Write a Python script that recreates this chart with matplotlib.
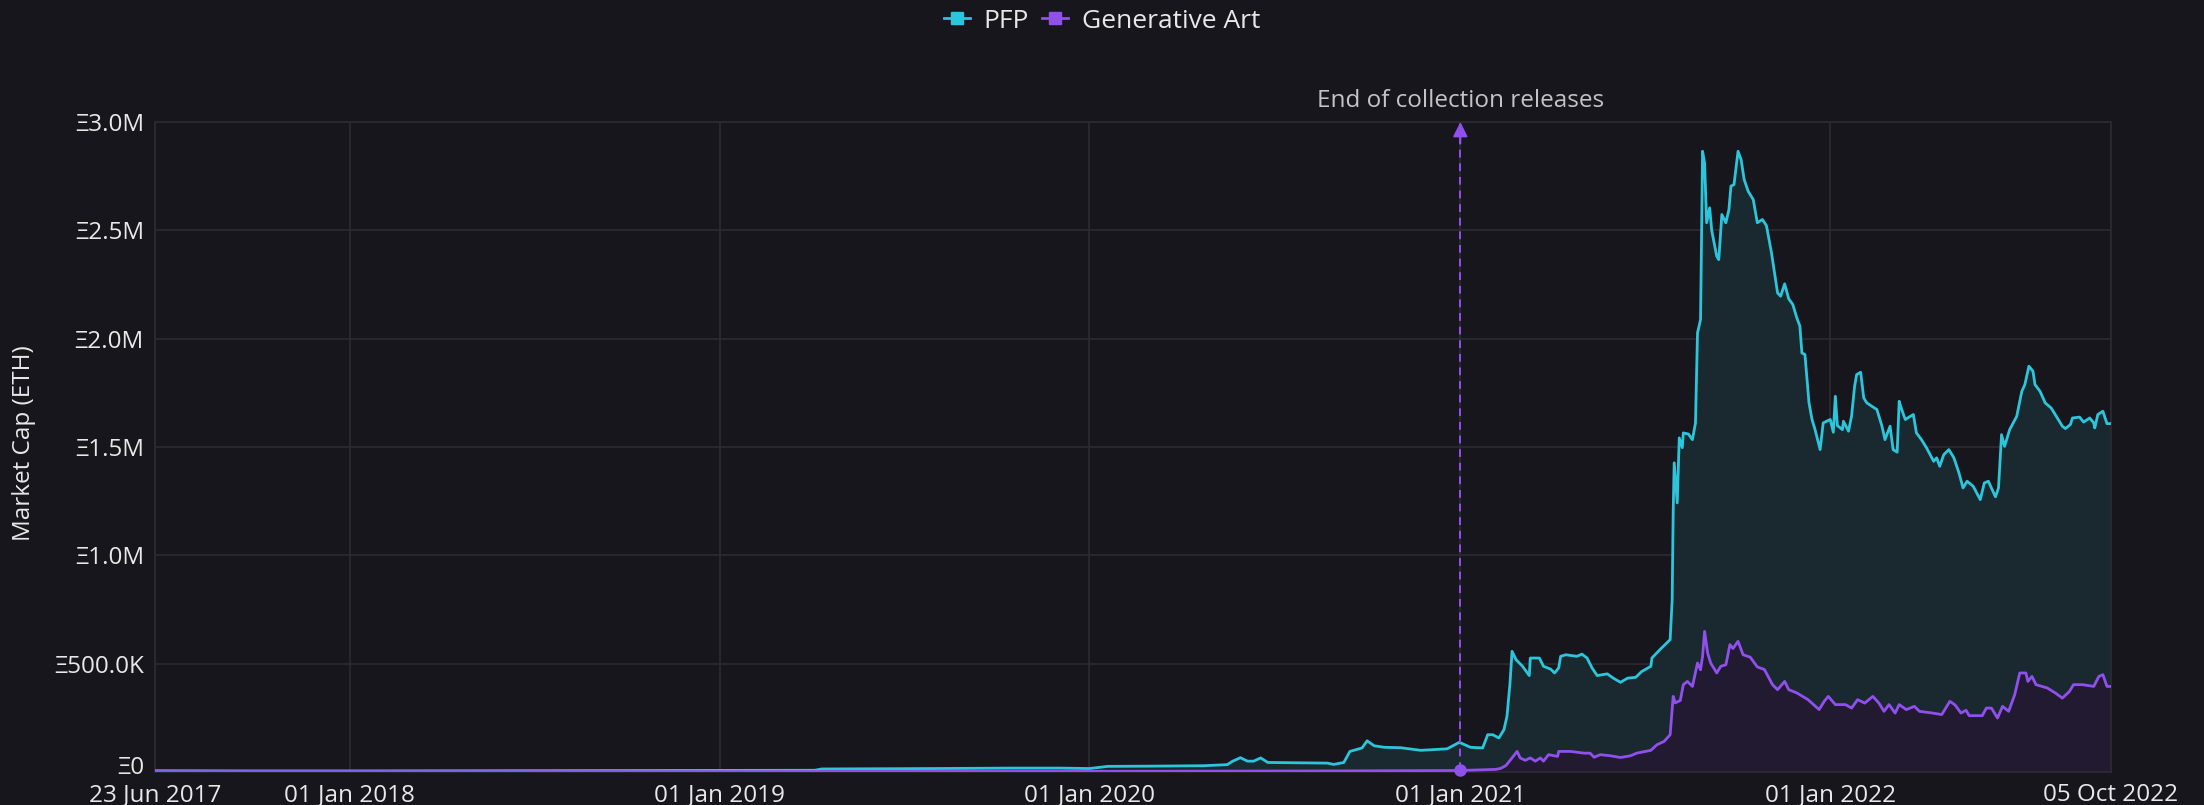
import matplotlib
matplotlib.use("Agg")
import matplotlib.pyplot as plt
import matplotlib.dates as mdates
import matplotlib.transforms as mtrans
from matplotlib.lines import Line2D
from matplotlib.ticker import FixedLocator
import pandas as pd

# ---------------- data (market cap in millions of ETH) ----------------
pfp_dates = [
    "2017-06-23", "2017-10-01", "2018-01-01", "2018-06-01", "2018-11-20", "2019-01-01",
    "2019-04-05", "2019-04-12", "2019-08-01", "2019-10-15", "2019-12-03", "2020-01-01",
    "2020-01-19", "2020-03-01", "2020-04-23", "2020-05-16", "2020-05-21", "2020-05-29",
    "2020-06-05", "2020-06-11", "2020-06-18", "2020-06-25", "2020-08-23", "2020-08-29",
    "2020-09-08", "2020-09-14", "2020-09-26", "2020-10-01", "2020-10-08", "2020-10-18",
    "2020-11-03", "2020-11-23", "2020-12-19", "2020-12-31", "2021-01-11", "2021-01-23",
    "2021-01-28", "2021-02-02", "2021-02-08", "2021-02-13", "2021-02-16", "2021-02-19",
    "2021-02-21", "2021-02-25", "2021-03-03", "2021-03-10", "2021-03-11", "2021-03-20",
    "2021-03-24", "2021-03-31", "2021-04-04", "2021-04-08", "2021-04-10", "2021-04-15",
    "2021-04-26", "2021-05-01", "2021-05-06", "2021-05-11", "2021-05-16", "2021-05-26",
    "2021-06-01", "2021-06-08", "2021-06-15", "2021-06-23", "2021-06-29", "2021-07-08",
    "2021-07-09", "2021-07-17", "2021-07-27", "2021-07-29", "2021-07-30", "2021-07-31",
    "2021-08-03", "2021-08-05", "2021-08-08", "2021-08-09", "2021-08-14", "2021-08-18",
    "2021-08-21", "2021-08-23", "2021-08-26", "2021-08-28", "2021-08-30", "2021-09-01",
    "2021-09-04", "2021-09-06", "2021-09-11", "2021-09-13", "2021-09-16", "2021-09-20",
    "2021-09-23", "2021-09-25", "2021-09-28", "2021-10-02", "2021-10-05", "2021-10-08",
    "2021-10-12", "2021-10-17", "2021-10-21", "2021-10-26", "2021-10-30", "2021-11-04",
    "2021-11-10", "2021-11-13", "2021-11-17", "2021-11-21", "2021-11-25", "2021-11-29",
    "2021-12-02", "2021-12-04", "2021-12-07", "2021-12-11", "2021-12-14", "2021-12-17",
    "2021-12-22", "2021-12-25", "2022-01-01", "2022-01-04", "2022-01-06", "2022-01-08",
    "2022-01-13", "2022-01-14", "2022-01-19", "2022-01-22", "2022-01-25", "2022-01-27",
    "2022-01-31", "2022-02-03", "2022-02-06", "2022-02-11", "2022-02-16", "2022-02-21",
    "2022-02-24", "2022-03-01", "2022-03-04", "2022-03-08", "2022-03-10", "2022-03-12",
    "2022-03-16", "2022-03-24", "2022-03-27", "2022-04-01", "2022-04-06", "2022-04-13",
    "2022-04-16", "2022-04-19", "2022-04-23", "2022-04-28", "2022-05-03", "2022-05-08",
    "2022-05-12", "2022-05-16", "2022-05-22", "2022-05-29", "2022-06-02", "2022-06-06",
    "2022-06-09", "2022-06-13", "2022-06-16", "2022-06-19", "2022-06-22", "2022-06-27",
    "2022-07-04", "2022-07-09", "2022-07-12", "2022-07-16", "2022-07-20", "2022-07-22",
    "2022-07-27", "2022-08-01", "2022-08-07", "2022-08-13", "2022-08-18", "2022-08-21",
    "2022-08-26", "2022-08-28", "2022-09-04", "2022-09-08", "2022-09-14", "2022-09-18",
    "2022-09-19", "2022-09-22", "2022-09-27", "2022-10-01", "2022-10-05",
]
pfp_values = [
    0.006, 0.005, 0.005, 0.006, 0.007, 0.007,
    0.008, 0.014, 0.016, 0.018, 0.018, 0.016,
    0.026, 0.027, 0.029, 0.034, 0.049, 0.066,
    0.050, 0.050, 0.065, 0.044, 0.041, 0.035,
    0.044, 0.095, 0.111, 0.144, 0.121, 0.114,
    0.112, 0.100, 0.107, 0.137, 0.114, 0.111,
    0.172, 0.172, 0.157, 0.195, 0.257, 0.411,
    0.557, 0.518, 0.490, 0.445, 0.526, 0.526,
    0.488, 0.475, 0.457, 0.480, 0.534, 0.541,
    0.534, 0.544, 0.526, 0.480, 0.445, 0.453,
    0.433, 0.414, 0.433, 0.437, 0.464, 0.488,
    0.526, 0.565, 0.611, 0.795, 1.200, 1.427,
    1.242, 1.542, 1.497, 1.565, 1.560, 1.534,
    1.611, 2.027, 2.088, 2.865, 2.810, 2.535,
    2.604, 2.500, 2.380, 2.365, 2.573, 2.535,
    2.596, 2.704, 2.711, 2.865, 2.827, 2.735,
    2.680, 2.642, 2.535, 2.550, 2.522, 2.396,
    2.211, 2.196, 2.253, 2.184, 2.158, 2.096,
    2.058, 1.934, 1.927, 1.704, 1.627, 1.580,
    1.488, 1.611, 1.627, 1.568, 1.734, 1.599,
    1.580, 1.619, 1.573, 1.642, 1.780, 1.834,
    1.845, 1.727, 1.704, 1.688, 1.673, 1.596,
    1.534, 1.596, 1.488, 1.476, 1.711, 1.680,
    1.627, 1.650, 1.565, 1.534, 1.496, 1.434,
    1.450, 1.411, 1.465, 1.488, 1.450, 1.380,
    1.311, 1.342, 1.319, 1.257, 1.334, 1.342,
    1.311, 1.270, 1.311, 1.557, 1.503, 1.580,
    1.642, 1.757, 1.788, 1.873, 1.850, 1.788,
    1.757, 1.704, 1.680, 1.634, 1.596, 1.585,
    1.604, 1.634, 1.638, 1.615, 1.634, 1.611,
    1.588, 1.650, 1.665, 1.608, 1.608,
]

gen_dates = [
    "2017-06-23", "2018-06-01", "2019-01-01", "2020-01-01", "2020-09-01", "2021-01-01",
    "2021-02-05", "2021-02-10", "2021-02-15", "2021-02-21", "2021-02-26", "2021-03-01",
    "2021-03-06", "2021-03-11", "2021-03-16", "2021-03-21", "2021-03-24", "2021-03-29",
    "2021-04-07", "2021-04-08", "2021-04-20", "2021-05-03", "2021-05-09", "2021-05-13",
    "2021-05-19", "2021-05-29", "2021-06-08", "2021-06-18", "2021-06-24", "2021-07-08",
    "2021-07-14", "2021-07-21", "2021-07-27", "2021-07-30", "2021-08-01", "2021-08-06",
    "2021-08-09", "2021-08-13", "2021-08-18", "2021-08-23", "2021-08-26", "2021-08-28",
    "2021-08-30", "2021-09-02", "2021-09-05", "2021-09-11", "2021-09-15", "2021-09-20",
    "2021-09-24", "2021-09-27", "2021-10-02", "2021-10-07", "2021-10-14", "2021-10-21",
    "2021-10-28", "2021-11-05", "2021-11-10", "2021-11-17", "2021-11-21", "2021-11-29",
    "2021-12-10", "2021-12-21", "2021-12-26", "2021-12-30", "2022-01-06", "2022-01-16",
    "2022-01-22", "2022-01-28", "2022-02-04", "2022-02-12", "2022-02-18", "2022-02-23",
    "2022-02-28", "2022-03-06", "2022-03-10", "2022-03-17", "2022-03-25", "2022-03-30",
    "2022-04-12", "2022-04-21", "2022-04-29", "2022-05-04", "2022-05-10", "2022-05-15",
    "2022-05-18", "2022-05-31", "2022-06-04", "2022-06-09", "2022-06-15", "2022-06-20",
    "2022-06-26", "2022-07-02", "2022-07-07", "2022-07-13", "2022-07-15", "2022-07-19",
    "2022-07-23", "2022-08-03", "2022-08-11", "2022-08-18", "2022-08-25", "2022-08-29",
    "2022-09-07", "2022-09-18", "2022-09-23", "2022-09-27", "2022-10-01", "2022-10-05",
]
gen_values = [
    0.002, 0.002, 0.002, 0.003, 0.005, 0.007,
    0.012, 0.017, 0.030, 0.065, 0.095, 0.065,
    0.054, 0.065, 0.050, 0.065, 0.050, 0.080,
    0.072, 0.095, 0.095, 0.087, 0.087, 0.068,
    0.080, 0.075, 0.067, 0.075, 0.087, 0.100,
    0.126, 0.141, 0.172, 0.349, 0.319, 0.330,
    0.403, 0.418, 0.395, 0.503, 0.472, 0.534,
    0.649, 0.549, 0.503, 0.457, 0.488, 0.495,
    0.588, 0.570, 0.603, 0.541, 0.530, 0.485,
    0.473, 0.403, 0.380, 0.418, 0.380, 0.365,
    0.334, 0.288, 0.326, 0.349, 0.311, 0.311,
    0.295, 0.334, 0.318, 0.349, 0.318, 0.280,
    0.311, 0.272, 0.311, 0.288, 0.303, 0.280,
    0.272, 0.265, 0.326, 0.310, 0.272, 0.285,
    0.260, 0.260, 0.295, 0.295, 0.249, 0.303,
    0.280, 0.357, 0.457, 0.457, 0.418, 0.441,
    0.403, 0.388, 0.365, 0.341, 0.372, 0.403,
    0.403, 0.395, 0.441, 0.449, 0.395, 0.395,
]

series_names = ["PFP", "Generative Art"]
x_tick_dates = ["2017-06-23", "2018-01-01", "2019-01-01", "2020-01-01",
                "2021-01-01", "2022-01-01", "2022-10-05"]
y_ticks = [0, 0.5, 1.0, 1.5, 2.0, 2.5, 3.0]
y_tick_labels = ["Ξ0", "Ξ500.0K", "Ξ1.0M", "Ξ1.5M", "Ξ2.0M", "Ξ2.5M", "Ξ3.0M"]
event_date = "2021-01-01"
event_value = 0.007
event_label = "End of collection releases"
y_label = "Market Cap (ETH)"

# ---------------- style ----------------
BG = "#17161c"
GRID = "#2c2b33"
PFP_C = "#2cc6dc"
GEN_C = "#9150ee"
PFP_FILL = "#1a2930"
GEN_FILL = "#221a30"
TXT = "#e8e8ea"

plt.rcParams["font.family"] = ["Open Sans", "DejaVu Sans"]

fig = plt.figure(figsize=(22.04, 8.05), dpi=100, facecolor=BG)
ax = fig.add_axes([155 / 2204, 1 - 772 / 805, (2111 - 155) / 2204, (772 - 122) / 805])
ax.set_facecolor(BG)

pd_pfp = pd.to_datetime(pfp_dates)
pd_gen = pd.to_datetime(gen_dates)

ax.fill_between(pd_pfp, 0, pfp_values, color=PFP_FILL, lw=0, zorder=1)
ax.fill_between(pd_gen, 0, gen_values, color=GEN_FILL, lw=0, zorder=2)
ax.plot(pd_pfp, pfp_values, color=PFP_C, lw=2.0, zorder=4, solid_joinstyle="round")
ax.plot(pd_gen, gen_values, color=GEN_C, lw=2.0, zorder=5, solid_joinstyle="round")

xt = pd.to_datetime(x_tick_dates)
ax.set_xlim(xt[0], xt[-1])
ax.set_ylim(0, 3.0)

ax.xaxis.set_major_locator(FixedLocator(mdates.date2num(xt)))
ax.set_xticklabels([d.strftime("%d %b %Y") for d in xt])
ax.set_yticks(y_ticks)
ax.set_yticklabels(y_tick_labels)
ax.tick_params(axis="both", length=0, colors=TXT, labelsize=17.5)
ax.tick_params(axis="x", pad=8)
ax.tick_params(axis="y", pad=8)

# lift the zero label a little so it clears the first date label
zero_lbl = ax.get_yticklabels()[0]
zero_lbl.set_transform(zero_lbl.get_transform() +
                       mtrans.ScaledTranslation(0, 5 / 72, fig.dpi_scale_trans))

ax.grid(True, color=GRID, lw=1.2, zorder=0)
ax.set_axisbelow(True)
for s in ax.spines.values():
    s.set_color(GRID)
    s.set_linewidth(1.2)

# event annotation
ev = pd.to_datetime(event_date)
ax.plot([ev, ev], [event_value, 2.93], color=GEN_C, lw=1.4, ls=(0, (4, 3)), zorder=6)
ax.annotate("", xy=(ev, 3.0), xytext=(ev, 2.9),
            arrowprops=dict(arrowstyle="-|>", color=GEN_C, lw=1.4, mutation_scale=22,
                            shrinkA=0, shrinkB=0), zorder=7, annotation_clip=False)
ax.plot([ev], [event_value], "o", color=GEN_C, ms=8, zorder=8, clip_on=False)
trans = mtrans.blended_transform_factory(ax.transData, ax.transAxes)
ax.text(ev, 1.032, event_label, transform=trans, ha="center", va="center",
        color="#c4c4c8", fontsize=17.5, clip_on=False)

fig.text(24 / 2204, 0.45, y_label, rotation=90, ha="center", va="center",
         color=TXT, fontsize=17.5)

handles = [Line2D([0], [0], color=PFP_C, lw=2, marker="s", ms=8),
           Line2D([0], [0], color=GEN_C, lw=2, marker="s", ms=8)]
fig.legend(handles, series_names, loc="center", bbox_to_anchor=(0.5, 1 - 21 / 805),
           ncol=2, frameon=False, fontsize=19, labelcolor=TXT, handlelength=1.0,
           handletextpad=0.5, columnspacing=0.5)

fig.savefig("out.png", dpi=100, facecolor=BG)
